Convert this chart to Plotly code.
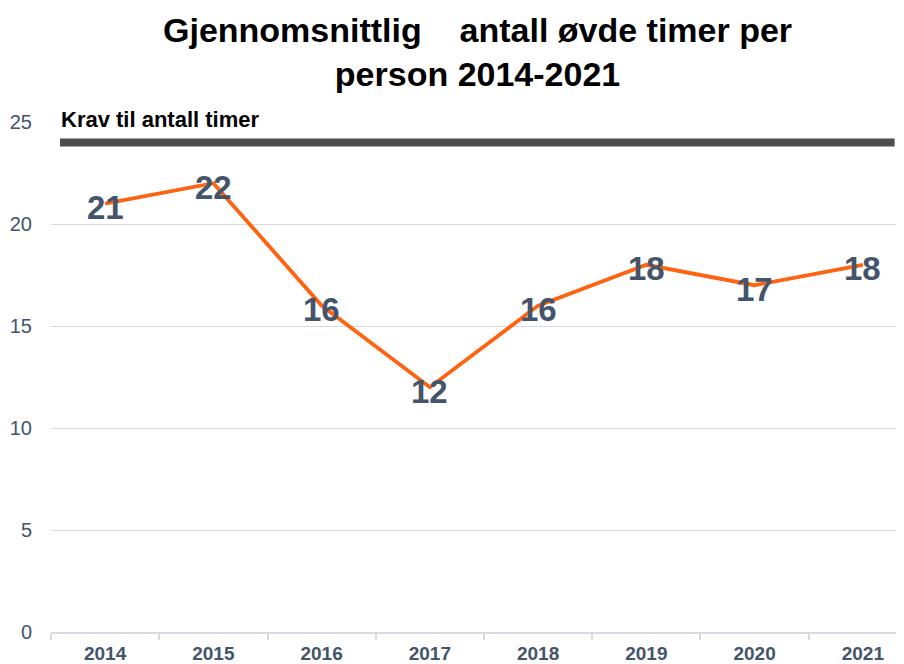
import plotly.graph_objects as go

years = ["2014", "2015", "2016", "2017", "2018", "2019", "2020", "2021"]
hours = [21, 22, 16, 12, 16, 18, 17, 18]
krav_value = 24
krav_label = "Krav til antall timer"
title_text = "Gjennomsnittlig&nbsp;&nbsp;&nbsp;&nbsp;antall øvde timer per<br>person 2014-2021"
y_ticks = [0, 5, 10, 15, 20, 25]

label_color = "#44546A"
font_family = "Liberation Sans, Arial, sans-serif"

fig = go.Figure()
fig.add_trace(go.Scatter(
    x=years, y=hours, mode="lines",
    line=dict(color="#FF6310", width=3.8),
    hoverinfo="skip", showlegend=False,
))

# data labels placed through the category axis (index positions of the categories)
for idx, val in enumerate(hours):
    fig.add_annotation(x=idx, y=val, xref="x", yref="y", text=str(val),
                       showarrow=False, xanchor="center", yanchor="middle", yshift=-4,
                       font=dict(size=33, color=label_color, family=font_family, weight="bold"))

fig.add_shape(type="line", xref="paper", yref="y", x0=0.0106, x1=0.989,
              y0=krav_value, y1=krav_value,
              line=dict(color="#4D4D4D", width=8))
fig.add_annotation(text=krav_label, xref="paper", yref="y", x=0.0094, y=krav_value,
                   xanchor="left", yanchor="middle", yshift=23, showarrow=False,
                   font=dict(size=22, color="#000000", family=font_family, weight="bold"))

fig.add_annotation(text=title_text, xref="paper", yref="paper", x=0.5, y=1.0,
                   xanchor="center", yanchor="middle", yshift=70, showarrow=False,
                   font=dict(size=34, color="#000000", family=font_family, weight="bold"))

fig.update_layout(
    width=896, height=656,
    margin=dict(l=43, r=0, t=114, b=32),
    paper_bgcolor="white", plot_bgcolor="white",
    font=dict(family=font_family),
)
fig.update_xaxes(
    type="category", range=[-0.5, 7.38], tickson="boundaries",
    ticks="outside", ticklen=6, tickcolor="#D9D9E3", tickwidth=2,
    showline=True, linecolor="#D9D9E3", linewidth=2, automargin=False,
    showgrid=False, zeroline=False, ticklabelstandoff=3,
    tickfont=dict(size=19, color=label_color, family=font_family, weight="bold"),
)
fig.update_yaxes(
    range=[0, 25], tickvals=y_ticks, showgrid=True, gridcolor="#D9D9E3", gridwidth=1,
    zeroline=False, showline=False, ticks="", ticklabelstandoff=18, automargin=False,
    tickfont=dict(size=20, color=label_color, family=font_family),
)

fig.write_html("out.html")
